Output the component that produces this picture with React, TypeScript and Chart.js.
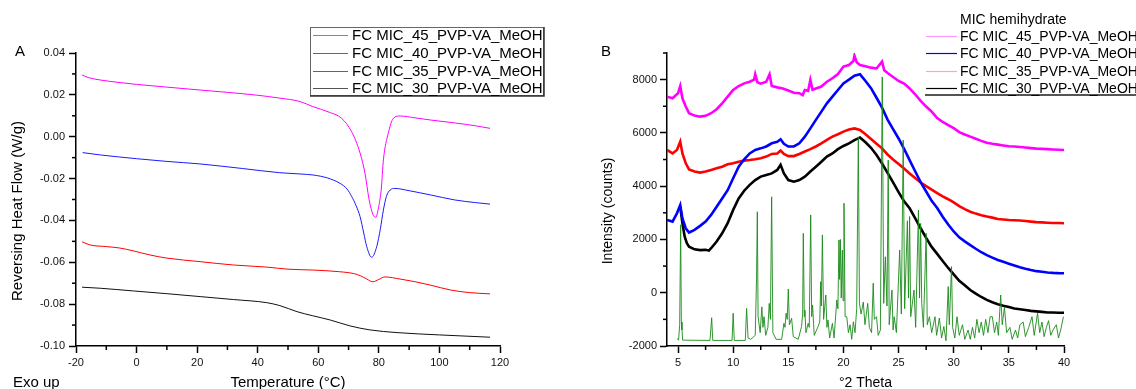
import React, { useEffect, useRef } from 'react';
import { Chart, registerables } from 'chart.js';

Chart.register(...registerables);

const FONT = '"Liberation Sans", Arial, Helvetica, sans-serif';

// ---------- Labels ----------
const seriesNames = [
  'FC MIC_45_PVP-VA_MeOH',
  'FC MIC_40_PVP-VA_MeOH',
  'FC MIC_35_PVP-VA_MeOH',
  'FC MIC_30_PVP-VA_MeOH',
];
const refName = 'MIC hemihydrate';

// ---------- Panel A ticks ----------
const tempTicks = [-20, 0, 20, 40, 60, 80, 100, 120];
const tempMinor = [-10, 10, 30, 50, 70, 90, 110];
const flowTicks = [-0.1, -0.08, -0.06, -0.04, -0.02, 0, 0.02, 0.04];
const flowMinor = [-0.09, -0.07, -0.05, -0.03, -0.01, 0.01, 0.03];

// ---------- Panel A data (Temperature °C, Reversing Heat Flow W/g) ----------
const temp45 = [-18, -16, -12, -5, 0, 10, 21, 30, 40, 47, 54, 58, 64, 67.7, 71, 73.8, 75.4, 76.8, 78, 79, 80, 80.8, 81.5, 83.1, 84.8, 87, 92, 97, 105, 112, 116.7];
const flow45 = [0.0295, 0.0283, 0.0271, 0.0258, 0.025, 0.0237, 0.0223, 0.0212, 0.0198, 0.0185, 0.0168, 0.0145, 0.0115, 0.0088, 0.0024, -0.0078, -0.0173, -0.0302, -0.037, -0.0385, -0.033, -0.025, -0.0111, 0.0016, 0.0088, 0.0099, 0.009, 0.008, 0.0066, 0.0052, 0.004];

const temp40 = [-17.8, -12, 0, 10, 20.9, 35, 47.3, 54, 58.3, 63, 67.2, 69.5, 71, 72.5, 73.8, 75, 76, 77.6, 79.3, 80.5, 81.5, 82.5, 83.7, 85.3, 90, 97, 105, 112, 116.7];
const flow40 = [-0.0076, -0.0087, -0.0105, -0.0118, -0.013, -0.0152, -0.0172, -0.0178, -0.0183, -0.0197, -0.0223, -0.025, -0.0285, -0.033, -0.0382, -0.046, -0.0525, -0.0576, -0.0525, -0.044, -0.035, -0.0285, -0.0255, -0.0247, -0.0258, -0.0278, -0.0302, -0.0315, -0.0322];

const temp35 = [-18, -15.4, -10, -5.5, -1.2, 4.4, 10, 21, 32, 43, 50, 58, 67, 72, 74, 76, 78, 80, 82, 87, 92, 97, 103.5, 110, 116.7];
const flow35 = [-0.0502, -0.0517, -0.0525, -0.0532, -0.0545, -0.0565, -0.058, -0.0597, -0.0613, -0.0623, -0.0633, -0.0637, -0.0645, -0.0655, -0.0665, -0.068, -0.0693, -0.0682, -0.067, -0.068, -0.0693, -0.0709, -0.0732, -0.0745, -0.0751];

const temp30 = [-18, -12, -1, 10, 21, 32, 43, 47.3, 53, 58, 64, 70.5, 77, 86, 100, 116.7];
const flow30 = [-0.0719, -0.0724, -0.0737, -0.075, -0.0764, -0.0778, -0.0793, -0.0807, -0.0836, -0.0855, -0.0876, -0.0904, -0.0923, -0.0936, -0.0947, -0.0958];

// ---------- Panel B ticks ----------
const thetaTicks = [5, 10, 15, 20, 25, 30, 35, 40];
const thetaMinor = [7.5, 12.5, 17.5, 22.5, 27.5, 32.5, 37.5];
const countTicks = [-2000, 0, 2000, 4000, 6000, 8000];
const countMinor = [-1000, 1000, 3000, 5000, 7000, 9000];

// ---------- Panel B data (°2 Theta, Intensity counts) ----------
const theta45 = [4.0, 4.5, 5.0, 5.2, 5.4, 5.7, 6.0, 6.5, 7.0, 7.5, 8.0, 8.5, 9.0, 9.5, 10.0, 10.5, 11.0, 11.5, 11.9, 12.0, 12.2, 12.5, 13.0, 13.3, 13.5, 14.0, 14.5, 15.0, 15.5, 16.0, 16.3, 16.5, 16.8, 17.0, 17.2, 17.5, 18.0, 18.5, 19.0, 19.5, 20.0, 20.5, 20.9, 21.0, 21.2, 21.5, 22.0, 22.5, 23.0, 23.5, 23.7, 24.0, 24.5, 25.0, 25.5, 26.0, 26.5, 27.0, 27.5, 28.0, 28.5, 29.0, 29.5, 30.0, 30.5, 31.0, 31.5, 32.0, 32.5, 33.0, 33.5, 34.0, 34.5, 35.0, 35.5, 36.0, 36.5, 37.0, 37.5, 38.0, 38.5, 39.0, 39.5, 40.0];
const counts45 = [7361, 7300, 7486, 7760, 7300, 6990, 6740, 6650, 6610, 6640, 6740, 6890, 7110, 7360, 7610, 7760, 7860, 7920, 8000, 8200, 7900, 7850, 7920, 8200, 7760, 7710, 7670, 7590, 7510, 7490, 7420, 7610, 7580, 7990, 7620, 7670, 7740, 7920, 8050, 8210, 8490, 8550, 8700, 8900, 8650, 8550, 8500, 8450, 8420, 8680, 8350, 8250, 8100, 7950, 7850, 7670, 7450, 7200, 6990, 6800, 6560, 6410, 6290, 6180, 6030, 5940, 5860, 5780, 5700, 5630, 5590, 5560, 5530, 5500, 5490, 5470, 5450, 5430, 5410, 5400, 5390, 5380, 5370, 5360];

const theta40 = [4.0, 4.5, 4.9, 5.2, 5.4, 5.7, 6.0, 6.5, 7.0, 7.5, 8.0, 8.5, 9.0, 9.5, 10.0, 10.5, 11.0, 11.5, 12.0, 12.5, 13.0, 13.5, 14.0, 14.3, 14.6, 15.0, 15.5, 16.0, 16.5, 17.0, 17.5, 18.0, 18.5, 19.0, 19.5, 20.0, 20.5, 21.0, 21.5, 22.0, 22.5, 23.0, 23.5, 24.0, 24.5, 25.0, 25.5, 26.0, 26.5, 27.0, 27.5, 28.0, 28.5, 29.0, 29.5, 30.0, 30.5, 31.0, 31.5, 32.0, 32.5, 33.0, 33.5, 34.0, 34.5, 35.0, 35.5, 36.0, 36.5, 37.0, 37.5, 38.0, 38.5, 39.0, 39.5, 40.0];
const counts40 = [2730, 2670, 2980, 3290, 2790, 2420, 2260, 2360, 2510, 2670, 2920, 3230, 3540, 3850, 4300, 4730, 5010, 5230, 5360, 5420, 5490, 5610, 5670, 5760, 5590, 5490, 5490, 5610, 5860, 6170, 6490, 6800, 7110, 7360, 7610, 7860, 8000, 8150, 8200, 7950, 7680, 7320, 6950, 6500, 6140, 5790, 5400, 4980, 4560, 4150, 3800, 3450, 3180, 2850, 2560, 2300, 2080, 1930, 1790, 1650, 1520, 1410, 1320, 1230, 1160, 1090, 1020, 955, 900, 850, 810, 785, 760, 745, 735, 730];

const theta35 = [4.0, 4.5, 4.9, 5.2, 5.4, 5.7, 6.0, 6.5, 7.0, 7.5, 8.0, 8.5, 9.0, 9.5, 10.0, 10.5, 11.0, 11.5, 12.0, 12.5, 13.0, 13.5, 14.0, 14.3, 14.6, 15.0, 15.5, 16.0, 16.5, 17.0, 17.5, 18.0, 18.5, 19.0, 19.5, 20.0, 20.5, 21.0, 21.5, 22.0, 22.5, 23.0, 23.5, 24.0, 24.5, 25.0, 25.5, 26.0, 26.5, 27.0, 27.5, 28.0, 28.5, 29.0, 29.5, 30.0, 30.5, 31.0, 31.5, 32.0, 32.5, 33.0, 33.5, 34.0, 34.5, 35.0, 35.5, 36.0, 36.5, 37.0, 37.5, 38.0, 38.5, 39.0, 39.5, 40.0];
const counts35 = [5360, 5230, 5360, 5670, 5230, 4860, 4630, 4550, 4510, 4550, 4610, 4670, 4730, 4820, 4860, 4920, 4960, 4980, 5010, 5050, 5110, 5210, 5230, 5340, 5210, 5130, 5130, 5210, 5300, 5390, 5490, 5610, 5740, 5860, 5950, 6050, 6130, 6170, 6110, 5950, 5770, 5590, 5420, 5190, 5000, 4830, 4660, 4480, 4310, 4140, 4000, 3870, 3740, 3620, 3510, 3390, 3250, 3140, 3040, 2970, 2910, 2860, 2820, 2770, 2750, 2730, 2720, 2710, 2690, 2670, 2650, 2640, 2630, 2620, 2615, 2610];

const theta30 = [5.2, 5.4, 5.6, 5.8, 6.0, 6.5, 7.0, 7.5, 7.8, 8.0, 8.5, 9.0, 9.5, 10.0, 10.5, 11.0, 11.5, 12.0, 12.5, 13.0, 13.5, 14.0, 14.3, 14.6, 15.0, 15.5, 16.0, 16.5, 17.0, 17.5, 18.0, 18.5, 19.0, 19.5, 20.0, 20.5, 21.0, 21.5, 22.0, 22.5, 23.0, 23.5, 24.0, 24.5, 25.0, 25.5, 26.0, 26.5, 27.0, 27.5, 28.0, 28.5, 29.0, 29.5, 30.0, 30.5, 31.0, 31.5, 32.0, 32.5, 33.0, 33.5, 34.0, 34.5, 35.0, 35.5, 36.0, 36.5, 37.0, 37.5, 38.0, 38.5, 39.0, 39.5, 40.0];
const counts30 = [3230, 2610, 2110, 1860, 1730, 1630, 1600, 1610, 1580, 1670, 1920, 2230, 2610, 3110, 3540, 3830, 4050, 4230, 4360, 4420, 4480, 4610, 4800, 4480, 4230, 4170, 4230, 4360, 4550, 4730, 4920, 5110, 5230, 5390, 5510, 5610, 5730, 5830, 5650, 5440, 5170, 4850, 4500, 4140, 3780, 3430, 3170, 2800, 2420, 2060, 1720, 1460, 1190, 930, 690, 450, 280, 100, -30, -160, -270, -360, -430, -490, -540, -590, -620, -650, -680, -700, -720, -740, -745, -750, -750];

// MIC hemihydrate reference pattern (°2 Theta, counts)
const thetaRef = [4.9, 5.05, 5.15, 5.24, 5.3, 5.36, 5.42, 7.9, 8.05, 8.15, 9.9, 10.0, 10.1, 11.1, 11.22, 11.35, 11.6, 12.0, 12.12, 12.19, 12.26, 12.45, 12.6, 12.7, 12.8, 12.95, 13.15, 13.27, 13.38, 13.49, 13.6, 13.9, 14.4, 14.6, 14.7, 14.8, 14.9, 15.0, 15.1, 15.3, 15.45, 15.9, 16.2, 16.3, 16.36, 16.45, 16.5, 16.6, 16.8, 16.9, 17.03, 17.12, 17.2, 17.35, 17.7, 17.85, 17.94, 18.0, 18.09, 18.2, 18.4, 18.5, 18.6, 18.75, 19.0, 19.15, 19.4, 19.5, 19.59, 19.65, 19.72, 19.8, 19.9, 19.97, 20.05, 20.15, 20.3, 20.45, 20.6, 20.75, 20.9, 21.05, 21.2, 21.35, 21.45, 21.6, 21.8, 21.95, 22.2, 22.35, 22.55, 22.7, 22.8, 23.0, 23.15, 23.35, 23.52, 23.65, 23.8, 23.95, 24.06, 24.15, 24.4, 24.5, 24.6, 24.8, 25.1, 25.25, 25.42, 25.55, 25.8, 25.9, 26.0, 26.1, 26.4, 26.55, 26.8, 26.9, 27.0, 27.1, 27.25, 27.5, 27.6, 27.8, 28.0, 28.3, 28.45, 28.7, 28.9, 29.1, 29.3, 29.5, 29.6, 29.8, 29.9, 30.1, 30.3, 30.5, 30.8, 31.0, 31.3, 31.5, 31.7, 31.9, 32.1, 32.3, 32.5, 32.7, 32.9, 33.1, 33.3, 33.5, 33.7, 33.9, 34.05, 34.26, 34.4, 34.6, 34.8, 35.1, 35.3, 35.6, 35.8, 36.0, 36.3, 36.5, 36.8, 37.1, 37.3, 37.6, 37.8, 38.0, 38.2, 38.4, 38.6, 38.8, 39.0, 39.3, 39.5, 39.7, 39.95];
const countsRef = [-1720, -1780, -1200, 2550, -1100, -1400, -1780, -1790, -940, -1790, -1790, -770, -1790, -1790, -590, -1700, -1750, -1600, 540, 3040, -900, -1500, -530, -1300, -900, -1600, -1300, -400, -1000, 3600, -1500, -1750, -1750, -1150, -1300, -770, -1000, 140, -1200, -960, -1650, -1750, -1270, -800, 2230, -900, -650, -1500, -1150, -1300, 2920, -900, -460, -1600, -1270, -1100, 415, -500, 2170, -1000, -85, -1300, -1020, -1700, -1150, -1700, -270, -600, 1980, 500, 2000, -200, 1600, -300, 3360, -900, -900, -1500, -1200, -1750, -1090, -1500, -600, 5850, -400, -800, -350, -1200, -400, -1300, -1500, 355, -1000, -900, -1600, -1400, 8100, -400, 1350, -500, 4980, -1200, 100, -1400, -900, -1500, 1600, -800, 5730, -600, 2700, -200, 2860, -900, 100, -1300, 3100, -200, 2600, -400, -1300, 2230, -1200, -900, -1500, -900, -1600, -950, -1700, -1270, -1800, 230, -1200, 980, -1300, -1700, -900, -1600, -1200, -1750, -1400, -1750, -1300, -1700, -1000, -1500, -1100, -1600, -1000, -1500, -900, -900, -1500, -1100, -1600, -85, -1200, -550, -1500, -1300, -1750, -1400, -1700, -1200, -1100, -1650, -1300, -900, -1600, -770, -1500, -1100, -1650, -1300, -1050, -1600, -1400, -1200, -1700, -1400, -900];

const pts = (xs: number[], ys: number[]) => xs.map((x, i) => ({ x, y: ys[i] }));

// ---------- Plugins ----------
const minorTickPlugin = {
  id: 'minorTicks',
  afterDraw(chart: any, _args: any, opts: any) {
    const ctx = chart.ctx;
    const xs = chart.scales.x;
    const ys = chart.scales.y;
    const len = opts.len || 4;
    ctx.save();
    ctx.strokeStyle = '#000';
    ctx.lineWidth = 1.5;
    (opts.x || []).forEach((v: number) => {
      const px = xs.getPixelForValue(v);
      ctx.beginPath();
      ctx.moveTo(px, xs.top);
      ctx.lineTo(px, xs.top + len);
      ctx.stroke();
    });
    (opts.y || []).forEach((v: number) => {
      const py = ys.getPixelForValue(v);
      ctx.beginPath();
      ctx.moveTo(ys.right, py);
      ctx.lineTo(ys.right - len, py);
      ctx.stroke();
    });
    ctx.restore();
  },
};

const textPlugin = {
  id: 'panelTexts',
  afterDraw(chart: any, _args: any, opts: any) {
    const ctx = chart.ctx;
    ctx.save();
    (opts.items || []).forEach((it: any) => {
      ctx.save();
      ctx.font = `${it.size}px ${FONT}`;
      ctx.fillStyle = '#000';
      ctx.textAlign = it.align || 'center';
      ctx.textBaseline = 'middle';
      ctx.translate(it.x, it.y);
      if (it.rotate) ctx.rotate(it.rotate);
      ctx.fillText(it.text, 0, 0);
      ctx.restore();
    });
    const lg = opts.legend;
    if (lg) {
      if (lg.box) {
        const [x1, y1, x2, y2] = lg.box;
        ctx.strokeStyle = '#666';
        ctx.lineWidth = 1;
        ctx.strokeRect(x1 + 0.5, y1 + 0.5, x2 - x1, y2 - y1);
        ctx.strokeStyle = '#333';
        ctx.lineWidth = 1.5;
        ctx.beginPath();
        ctx.moveTo(x1, y2 + 1);
        ctx.lineTo(x2 + 1, y2 + 1);
        ctx.lineTo(x2 + 1, y1);
        ctx.stroke();
      }
      if (lg.bottomLine) {
        const [x1, x2, y] = lg.bottomLine;
        ctx.strokeStyle = '#555';
        ctx.lineWidth = 2;
        ctx.beginPath();
        ctx.moveTo(x1, y);
        ctx.lineTo(x2, y);
        ctx.stroke();
      }
      ctx.font = `${lg.size}px ${FONT}`;
      ctx.textAlign = 'left';
      ctx.textBaseline = 'middle';
      ctx.fillStyle = '#000';
      (lg.entries || []).forEach((e: any) => {
        if (e.color) {
          ctx.strokeStyle = e.color;
          ctx.lineWidth = 1.2;
          ctx.beginPath();
          ctx.moveTo(lg.lineX1, e.y + 0.5);
          ctx.lineTo(lg.lineX2, e.y + 0.5);
          ctx.stroke();
        }
        ctx.fillStyle = '#000';
        ctx.fillText(e.label, lg.textX, e.y + 1);
      });
    }
    ctx.restore();
  },
};

const axis = (
  min: number,
  max: number,
  ticks: number[],
  fmt: (v: number) => string,
  horizontal: boolean,
  size: number,
  pad: number,
) => ({
  type: 'linear',
  min,
  max,
  afterBuildTicks: (s: any) => {
    s.ticks = ticks.map((v) => ({ value: v }));
  },
  afterFit: (s: any) => {
    if (horizontal) s.height = size;
    else s.width = size;
  },
  ticks: {
    color: '#111',
    font: { family: FONT, size: 11 },
    padding: pad,
    maxRotation: 0,
    minRotation: 0,
    autoSkip: false,
    callback: (v: any) => fmt(Number(v)),
  },
  grid: {
    display: true,
    drawOnChartArea: false,
    drawTicks: true,
    tickLength: 7,
    tickWidth: 1.5,
    tickColor: '#000',
  },
  border: { display: true, color: '#000', width: 1.5 },
});

function PanelA() {
  const ref = useRef<HTMLCanvasElement | null>(null);
  useEffect(() => {
    if (!ref.current) return;
    const lineDs = (label: string, xs: number[], ys: number[], color: string) => ({
      label,
      data: pts(xs, ys),
      borderColor: color,
      backgroundColor: color,
      borderWidth: 1,
      pointRadius: 0,
      fill: false,
      cubicInterpolationMode: 'monotone',
    });
    const chart = new Chart(ref.current, {
      type: 'line',
      data: {
        datasets: [
          lineDs(seriesNames[0], temp45, flow45, '#ff00ff'),
          lineDs(seriesNames[1], temp40, flow40, '#1a1aff'),
          lineDs(seriesNames[2], temp35, flow35, '#ff0000'),
          lineDs(seriesNames[3], temp30, flow30, '#111111'),
        ],
      },
      options: {
        responsive: false,
        animation: false,
        devicePixelRatio: 1,
        layout: { padding: { left: 0, right: 70, top: 53, bottom: 0 } },
        scales: {
          x: axis(-20, 120, tempTicks, (v) => String(Math.round(v)), true, 43, 3),
          y: axis(-0.1, 0.04, flowTicks, (v) => v.toFixed(2), false, 76, 4),
        },
        plugins: {
          legend: { display: false },
          tooltip: { enabled: false },
          minorTicks: { x: tempMinor, y: flowMinor, len: 4 },
          panelTexts: {
            items: [
              { text: 'A', x: 20, y: 52, size: 15 },
              { text: 'Reversing Heat Flow (W/g)', x: 18, y: 211, size: 15, rotate: -Math.PI / 2 },
              { text: 'Temperature (°C)', x: 288, y: 383, size: 15 },
              { text: 'Exo up', x: 13, y: 383, size: 15, align: 'left' },
            ],
            legend: {
              box: [310, 27, 543, 95],
              size: 15,
              lineX1: 313,
              lineX2: 348,
              textX: 352,
              entries: [
                { label: seriesNames[0], color: '#ff33ff', y: 35 },
                { label: seriesNames[1], color: '#5555ff', y: 53 },
                { label: seriesNames[2], color: '#ff2222', y: 71 },
                { label: seriesNames[3], color: '#555555', y: 88 },
              ],
            },
          },
        },
      } as any,
      plugins: [minorTickPlugin, textPlugin],
    } as any);
    return () => chart.destroy();
  }, []);
  return (
    <canvas
      ref={ref}
      width={570}
      height={389}
      style={{ position: 'absolute', left: 0, top: 0, width: 570, height: 389 }}
    />
  );
}

function PanelB() {
  const ref = useRef<HTMLCanvasElement | null>(null);
  useEffect(() => {
    if (!ref.current) return;
    const lineDs = (label: string, xs: number[], ys: number[], color: string, w: number) => ({
      label,
      data: pts(xs, ys),
      borderColor: color,
      backgroundColor: color,
      borderWidth: w,
      pointRadius: 0,
      fill: false,
      tension: 0,
    });
    const chart = new Chart(ref.current, {
      type: 'line',
      data: {
        datasets: [
          lineDs(refName, thetaRef, countsRef, '#1a8a1a', 0.9),
          lineDs(seriesNames[0], theta45, counts45, '#ff00ff', 2.6),
          lineDs(seriesNames[1], theta40, counts40, '#0000ff', 2.6),
          lineDs(seriesNames[2], theta35, counts35, '#ff0000', 2.6),
          lineDs(seriesNames[3], theta30, counts30, '#000000', 2.6),
        ],
      },
      options: {
        responsive: false,
        animation: false,
        devicePixelRatio: 1,
        layout: { padding: { left: 0, right: 72, top: 53, bottom: 0 } },
        scales: {
          x: axis(4, 40, thetaTicks, (v) => String(Math.round(v)), true, 43, 3),
          y: axis(-2000, 9000, countTicks, (v) => String(Math.round(v)), false, 97, 3),
        },
        plugins: {
          legend: { display: false },
          tooltip: { enabled: false },
          minorTicks: { x: thetaMinor, y: countMinor, len: 4 },
          panelTexts: {
            items: [
              { text: 'B', x: 36, y: 52, size: 15 },
              { text: 'Intensity (counts)', x: 38, y: 211, size: 14, rotate: -Math.PI / 2 },
              { text: '°2 Theta', x: 295.5, y: 383, size: 14 },
            ],
            legend: {
              bottomLine: [355, 566, 95],
              size: 14,
              lineX1: 356,
              lineX2: 387,
              textX: 390,
              entries: [
                { label: refName, color: null, y: 19 },
                { label: seriesNames[0], color: '#ff99ff', y: 36 },
                { label: seriesNames[1], color: '#0000ff', y: 53 },
                { label: seriesNames[2], color: '#ffaaaa', y: 71 },
                { label: seriesNames[3], color: '#000000', y: 88 },
              ],
            },
          },
        },
      } as any,
      plugins: [minorTickPlugin, textPlugin],
    } as any);
    return () => chart.destroy();
  }, []);
  return (
    <canvas
      ref={ref}
      width={566}
      height={389}
      style={{ position: 'absolute', left: 570, top: 0, width: 566, height: 389 }}
    />
  );
}

export default function App() {
  return (
    <div
      style={{
        position: 'absolute',
        left: 0,
        top: 0,
        width: 1136,
        height: 389,
        background: '#ffffff',
        overflow: 'hidden',
      }}
    >
      <PanelA />
      <PanelB />
    </div>
  );
}
